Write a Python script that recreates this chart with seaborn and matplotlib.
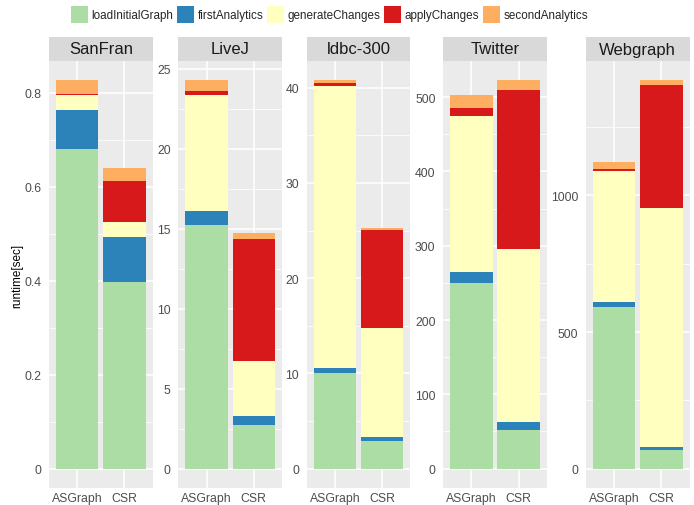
import matplotlib
matplotlib.use("Agg")
import matplotlib.pyplot as plt
from matplotlib.patches import Patch
from matplotlib.ticker import MultipleLocator, FuncFormatter
import seaborn as sns
import pandas as pd
import numpy as np

graphs = ["SanFran", "LiveJ", "ldbc-300", "Twitter", "Webgraph"]
impls = ["ASGraph", "CSR"]
phases = ["loadInitialGraph", "firstAnalytics", "generateChanges", "applyChanges", "secondAnalytics"]
colors = ["#ABDDA4", "#2B83BA", "#FFFFBF", "#D7191C", "#FDAE61"]

# values ordered: (SanFran ASGraph, SanFran CSR, LiveJ ASGraph, LiveJ CSR, ...)
loadInitialGraph = [0.681, 0.396, 15.2, 2.71, 10.04, 2.88, 249.3, 51.5, 590, 67]
firstAnalytics = [0.083, 0.096, 0.88, 0.56, 0.53, 0.45, 14.8, 10.8, 18.5, 11]
generateChanges = [0.030, 0.032, 7.25, 3.44, 29.6, 11.44, 210, 233, 480, 875]
applyChanges = [0.003, 0.089, 0.25, 7.62, 0.3, 10.33, 10.7, 213.7, 7, 453]
secondAnalytics = [0.029, 0.026, 0.69, 0.38, 0.3, 0.2, 17.8, 13.5, 26, 15]

y_steps = [0.2, 5, 10, 100, 500]

series = [loadInitialGraph, firstAnalytics, generateChanges, applyChanges, secondAnalytics]
rows = []
for p, vals in zip(phases, series):
    for i, v in enumerate(vals):
        rows.append({"graph": graphs[i // 2], "impl": impls[i % 2], "phase": p, "runtime": v})
df = pd.DataFrame(rows)
df["phase"] = pd.Categorical(df["phase"], categories=phases, ordered=True)
df = df.sort_values(["graph", "impl", "phase"])
df["cum"] = df.groupby(["graph", "impl"], observed=True)["runtime"].cumsum()

sns.set_theme(style="white")
plt.rcParams["font.family"] = ["Liberation Sans", "DejaVu Sans"]

W, H = 694, 506
fig = plt.figure(figsize=(W / 100, H / 100), dpi=100)
fig.patch.set_facecolor("white")

lefts = [49, 178.3, 306.7, 443.2, 586]
pw = 103.7
ptop, pbot = 62, 489
stop = 38

fmt = FuncFormatter(lambda v, pos: "{:g}".format(round(v, 6)))

for g, l, step in zip(graphs, lefts, y_steps):
    ax = fig.add_axes([l / W, 1 - pbot / H, pw / W, (pbot - ptop) / H])
    ax.set_facecolor("#EBEBEB")
    sub = df[df["graph"] == g]
    for p, c in reversed(list(zip(phases, colors))):
        s = sub[sub["phase"] == p]
        sns.barplot(data=s, x="impl", y="cum", order=impls, color=c, width=0.9,
                    saturation=1, errorbar=None, linewidth=0, ax=ax, zorder=3)
    ymax = sub["cum"].max()
    ax.set_ylim(-0.05 * ymax, 1.05 * ymax)
    ax.set_xlim(-0.6, 1.6)
    ax.yaxis.set_major_locator(MultipleLocator(step))
    ax.yaxis.set_minor_locator(MultipleLocator(step / 2))
    ax.yaxis.set_major_formatter(fmt)
    ax.grid(True, which="major", color="white", linewidth=1.1, zorder=0)
    ax.grid(True, which="minor", axis="y", color="white", linewidth=0.55, zorder=0)
    ax.set_axisbelow(True)
    for sp in ax.spines.values():
        sp.set_visible(False)
    ax.tick_params(axis="y", which="major", length=3.5, width=0.8, color="#333333",
                   labelcolor="#4D4D4D", labelsize=8.8, pad=2)
    ax.tick_params(axis="x", which="major", length=2.5, width=0.8, color="#333333",
                   labelcolor="#4D4D4D", labelsize=8.8, pad=0.5)
    ax.tick_params(axis="y", which="minor", length=0)
    ax.set_xlabel("")
    ax.set_ylabel("")

    sax = fig.add_axes([l / W, 1 - ptop / H, pw / W, (ptop - stop) / H])
    sax.set_facecolor("#D9D9D9")
    sax.set_xticks([])
    sax.set_yticks([])
    for sp in sax.spines.values():
        sp.set_visible(False)
    sax.text(0.5, 0.5, g, ha="center", va="center", fontsize=12, color="#1A1A1A",
             transform=sax.transAxes)

fig.text(17.5 / W, 1 - 275.5 / H, "runtime[sec]", rotation=90, ha="center", va="center",
         fontsize=8.5, color="black")

handles = [Patch(facecolor=c, edgecolor="none", label=p) for p, c in zip(phases, colors)]
fig.legend(handles=handles, loc="center", bbox_to_anchor=(329.5 / W, 1 - 15.7 / H), ncol=5,
           frameon=False, fontsize=8.4, handlelength=1.45, handleheight=1.87,
           handletextpad=0.28, columnspacing=0.35, borderpad=0, borderaxespad=0)

fig.savefig("out.png", dpi=100, facecolor="white")
